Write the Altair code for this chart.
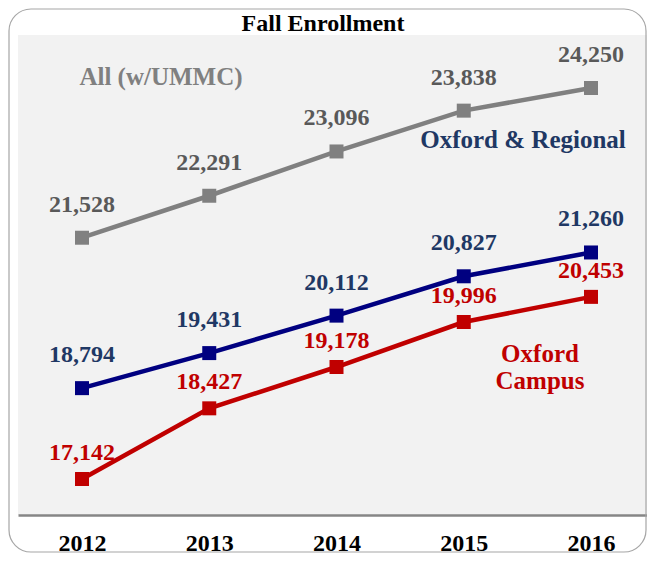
import altair as alt
import pandas as pd

years = [2012, 2013, 2014, 2015, 2016]
all_ummc = [21528, 22291, 23096, 23838, 24250]
oxford_regional = [18794, 19431, 20112, 20827, 21260]
oxford_campus = [17142, 18427, 19178, 19996, 20453]
series_names = ["All (w/UMMC)", "Oxford & Regional", "Oxford Campus"]

rows = []
for name, vals in zip(series_names, [all_ummc, oxford_regional, oxford_campus]):
    for yr, v in zip(years, vals):
        rows.append({"year": yr, "enrollment": v, "series": name})
df = pd.DataFrame(rows)

line_colors = ["#808080", "#000080", "#c00000"]
label_colors = ["#595959", "#1f3864", "#c00000"]
label_dy = [-26, -26, -19]
FONT = "Liberation Serif"

x = alt.X(
    "year:Q",
    scale=alt.Scale(domain=[2011.497, 2016.44], nice=False, zero=False),
    axis=alt.Axis(
        values=years, format="d", title=None, grid=False, ticks=False,
        domainColor="#868686", domainWidth=2.5,
        labelFont=FONT, labelFontWeight="bold", labelFontSize=24,
        labelColor="#000000", labelPadding=35, labelBaseline="alphabetic",
    ),
)
y = alt.Y("enrollment:Q", scale=alt.Scale(domain=[16488, 25213], nice=False, zero=False), axis=None)
color = alt.Color("series:N", scale=alt.Scale(domain=series_names, range=line_colors), legend=None)

base = alt.Chart(df)
one = pd.DataFrame({"a": [0]})

border = alt.Chart(one).mark_rect(
    fill="transparent", stroke="#a6a6a6", strokeWidth=1.2, cornerRadius=22
).encode(x=alt.value(-9), x2=alt.value(628), y=alt.value(-26), y2=alt.value(517))

lines = base.mark_line(strokeWidth=4.5).encode(x=x, y=y, color=color)
points = base.mark_point(shape="square", filled=True, size=196, opacity=1).encode(x=x, y=y, color=color)

label_layers = []
for name, col, dy in zip(series_names, label_colors, label_dy):
    label_layers.append(
        base.transform_filter(alt.datum.series == name).mark_text(
            font=FONT, fontWeight="bold", fontSize=24, color=col,
            align="center", baseline="alphabetic", dy=dy,
        ).encode(x=x, y=y, text=alt.Text("enrollment:Q", format=",d"))
    )

title = alt.Chart(one).mark_text(
    text="Fall Enrollment", font=FONT, fontWeight="bold", fontSize=24,
    color="#000000", align="center", baseline="alphabetic",
).encode(x=alt.value(305), y=alt.value(-4))

ann_all = alt.Chart(one).mark_text(
    text="All (w/UMMC)", font=FONT, fontWeight="bold", fontSize=25,
    color="#808080", align="center", baseline="alphabetic",
).encode(x=alt.value(143), y=alt.value(50))

ann_reg = alt.Chart(one).mark_text(
    text="Oxford & Regional", font=FONT, fontWeight="bold", fontSize=25,
    color="#1f3864", align="center", baseline="alphabetic",
).encode(x=alt.value(505), y=alt.value(113))

ann_camp = alt.Chart(one).mark_text(
    text=["Oxford", "Campus"], font=FONT, fontWeight="bold", fontSize=25,
    color="#c00000", align="center", baseline="alphabetic", lineHeight=27,
).encode(x=alt.value(522), y=alt.value(327))

chart = alt.layer(
    border, lines, points, *label_layers, title, ann_all, ann_reg, ann_camp
).properties(
    width=629, height=480,
    padding={"left": 10, "top": 27, "right": 0, "bottom": 39},
    autosize=alt.AutoSizeParams(type="none"),
    background="#ffffff",
).configure_view(fill="#f2f2f2", strokeWidth=0)

chart.save("out.html", embed_options={"renderer": "svg", "actions": False})
